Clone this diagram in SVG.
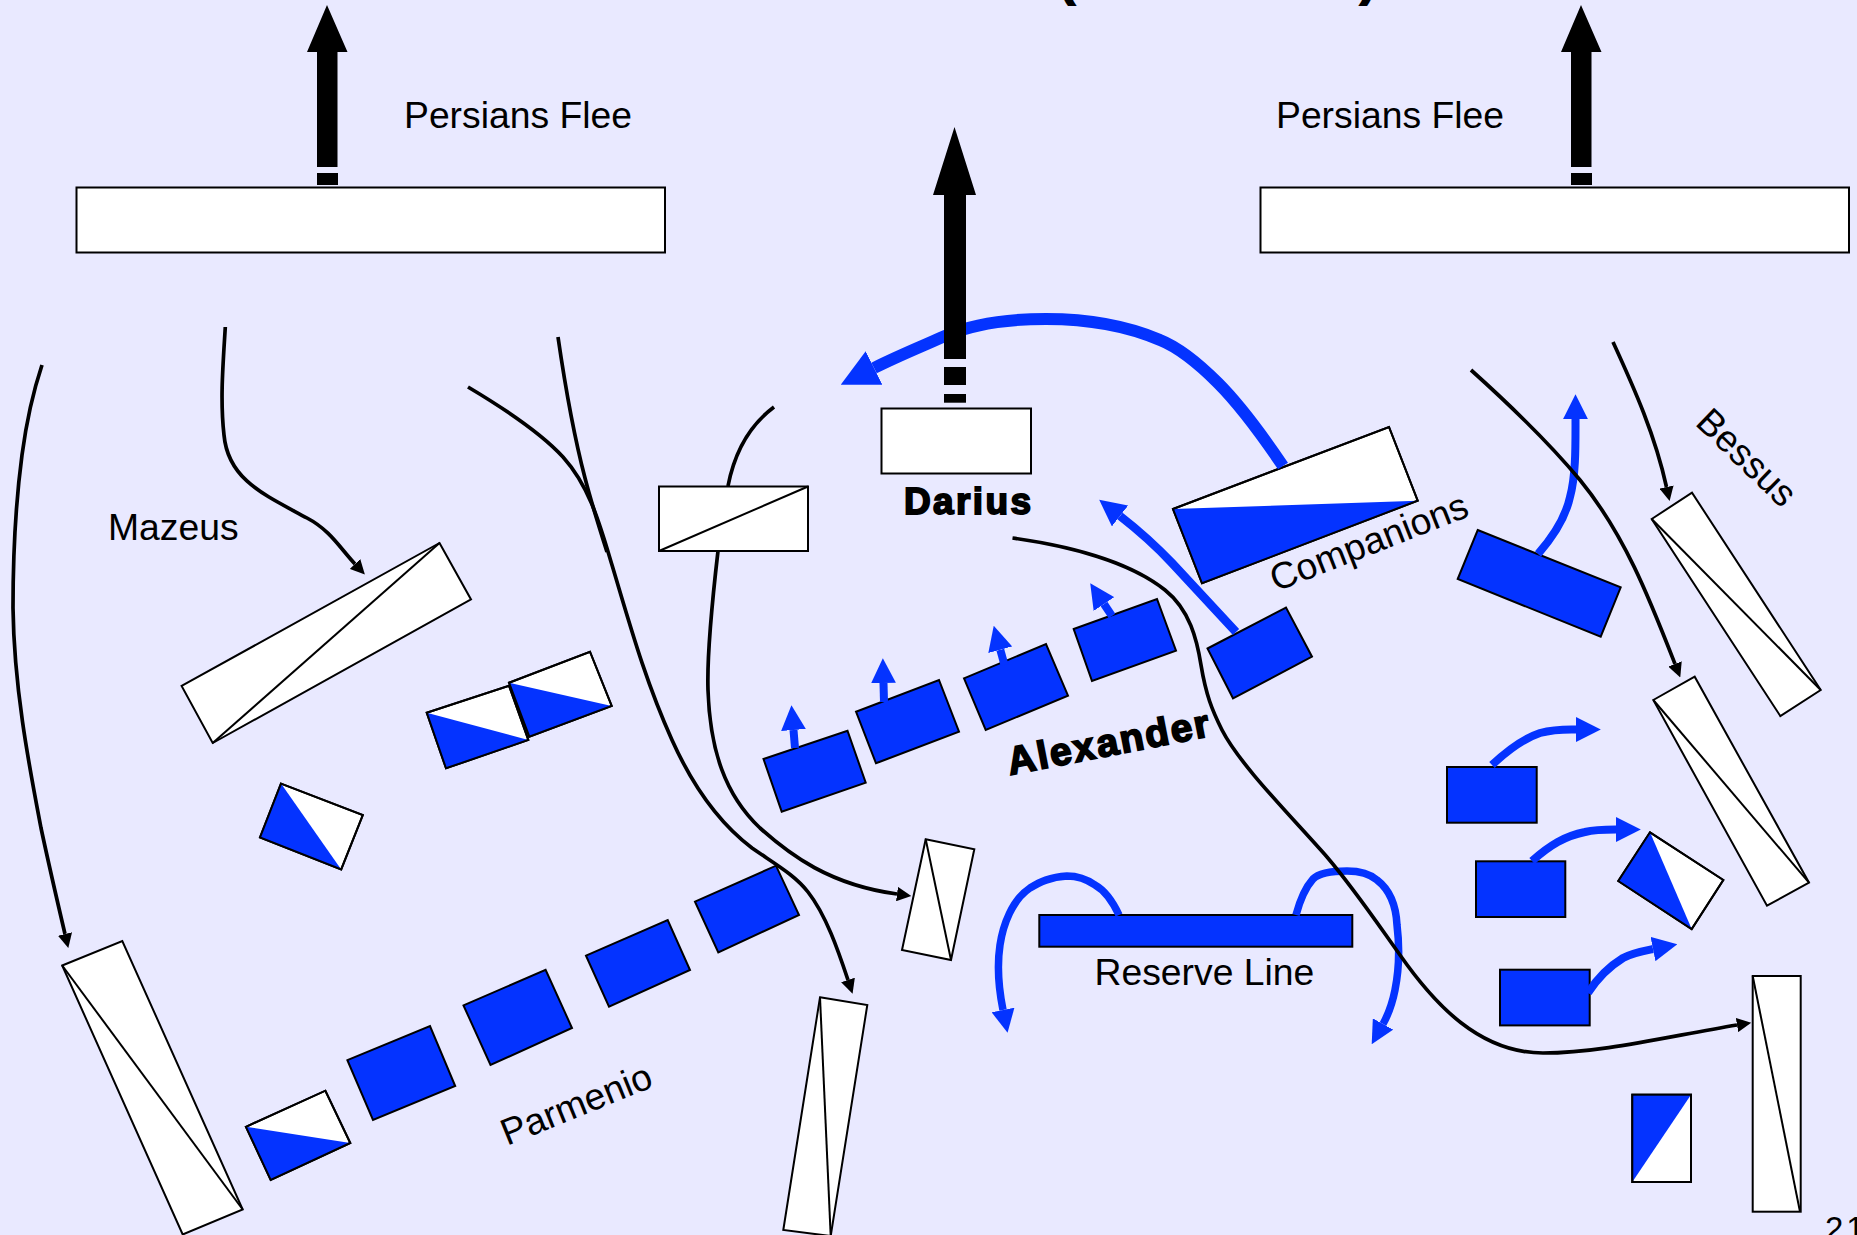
<svg xmlns="http://www.w3.org/2000/svg" width="1857" height="1235" viewBox="0 0 1857 1235">
<style>
.n{fill:#fff;stroke:#000;stroke-width:2;stroke-linejoin:miter}
.o{fill:none;stroke:#000;stroke-width:2}
.b{fill:#0433ff;stroke:none}
.s{fill:#0433ff;stroke:#000;stroke-width:2}
.d{stroke:#000;stroke-width:2;fill:none}
.t{font-family:"Liberation Sans",Arial,sans-serif;font-size:37.3px;fill:#000}
.h{font-family:"Liberation Sans",Arial,sans-serif;font-weight:bold;fill:#000;stroke:#000;stroke-width:1.8}
.k{fill:none;stroke:#000;stroke-width:3.7;marker-end:url(#mk)}
.u{fill:none;stroke:#0433ff;stroke-width:8;marker-end:url(#mb)}
.f{fill:#000}
</style>
<defs>
<marker id="mk" viewBox="0 0 10 10" refX="0" refY="5" markerWidth="3.9" markerHeight="3.9" orient="auto"><polygon points="0,0 10,5 0,10" fill="#000"/></marker>
<marker id="mb" viewBox="0 0 10 10" refX="0" refY="5" markerWidth="3.1" markerHeight="3.1" orient="auto"><polygon points="0,0 10,5 0,10" fill="#0433ff"/></marker>
</defs>
<rect width="1857" height="1235" fill="#e9e9ff"/>
<text class="h" x="1059" y="-5" font-size="48">(</text>
<text class="h" x="1360" y="-5" font-size="48">)</text>

<g id="persians-left"><rect class="n" x="76.5" y="187.5" width="588.5" height="65"/></g>
<g id="persians-right"><rect class="n" x="1260.5" y="187.5" width="588.5" height="65"/></g>
<g id="darius"><rect class="n" x="881.5" y="408.5" width="149.5" height="65"/></g>
<g id="mid-rect"><rect class="n" x="659" y="486.5" width="149" height="64.5"/><line class="d" x1="659" y1="551" x2="808" y2="486.5"/></g>
<g id="companions"><polygon class="n" points="1173,509 1389,427 1417.7,500.7 1202,583.3"/><polygon class="b" points="1173,509 1417.7,500.7 1202,583.3"/><polygon class="o" points="1173,509 1389,427 1417.7,500.7 1202,583.3"/></g>

<g id="alex-1"><polygon class="s" points="763.5,759 847.5,730.7 865.7,782.7 781.7,811.7"/></g>
<g id="alex-2"><polygon class="s" points="856,711.7 939,680 959,731.7 876,763.3"/></g>
<g id="alex-3"><polygon class="s" points="964,678.3 1046,644 1068,695.7 985.7,730"/></g>
<g id="alex-4"><polygon class="s" points="1073.7,629 1157,599 1176,650.7 1092,681"/></g>
<g id="alex-5"><polygon class="s" points="1207.5,648.5 1286,607.5 1312,656.7 1233,698.3"/></g>

<g id="right-block"><polygon class="s" points="1477.7,530 1620.7,587.3 1600.7,636.7 1457.7,579"/></g>
<g id="bessus-1"><polygon class="n" points="1651.7,519 1692,492.7 1820.7,690 1780.3,716"/><line class="d" x1="1651.7" y1="519" x2="1820.7" y2="690"/></g>
<g id="bessus-2"><polygon class="n" points="1653.3,700 1694.7,676.7 1809,882.7 1767,905.7"/><line class="d" x1="1653.3" y1="700" x2="1809" y2="882.7"/></g>
<g id="blue-1"><rect class="s" x="1447" y="767" width="89.7" height="55.7"/></g>
<g id="blue-2"><rect class="s" x="1476" y="861.3" width="89.3" height="55.7"/></g>
<g id="blue-3"><rect class="s" x="1500" y="969.7" width="89.7" height="55.7"/></g>
<g id="diamond-right"><polygon class="n" points="1650,832.3 1723.3,880 1691.7,929 1618.3,881"/><polygon class="b" points="1650,832.3 1691.7,929 1618.3,881"/><polygon class="o" points="1650,832.3 1723.3,880 1691.7,929 1618.3,881"/></g>
<g id="tall-right"><rect class="n" x="1752.7" y="976" width="48" height="235.7"/><line class="d" x1="1752.7" y1="976" x2="1800" y2="1211.7"/></g>
<g id="small-right"><rect class="n" x="1632.3" y="1094.7" width="58.7" height="87.3"/><polygon class="b" points="1632.3,1094.7 1691,1094.7 1632.3,1182"/><rect class="o" x="1632.3" y="1094.7" width="58.7" height="87.3"/></g>

<g id="reserve"><rect class="s" x="1039.3" y="915" width="313" height="31.7"/></g>

<g id="mazeus"><polygon class="n" points="439.5,543 471,599.4 212.7,743 181.6,686"/><line class="d" x1="439.5" y1="543" x2="212.7" y2="743"/></g>
<g id="pair-left"><polygon class="n" points="426.7,712.7 509,685.7 528.3,740 446,768.3"/><polygon class="b" points="426.7,712.7 528.3,740 446,768.3"/><polygon class="o" points="426.7,712.7 509,685.7 528.3,740 446,768.3"/></g>
<g id="pair-right"><polygon class="n" points="509,682.7 590,651.7 611.7,706 529.3,736.7"/><polygon class="b" points="509,682.7 611.7,706 529.3,736.7"/><polygon class="o" points="509,682.7 590,651.7 611.7,706 529.3,736.7"/></g>
<g id="diamond-left"><polygon class="n" points="281,783.6 362.8,815 341.2,869.4 260,837.5"/><polygon class="b" points="281,783.6 341.2,869.4 260,837.5"/><polygon class="o" points="281,783.6 362.8,815 341.2,869.4 260,837.5"/></g>
<g id="tall-left"><polygon class="n" points="62.2,965.5 122.3,941 242.7,1209.5 182.7,1234.5"/><line class="d" x1="62.2" y1="965.5" x2="242.7" y2="1209.5"/></g>
<g id="parm-1"><polygon class="n" points="245.9,1126.8 325.4,1090.7 350.3,1143 270.7,1179.8"/><polygon class="b" points="245.9,1126.8 350.3,1143 270.7,1179.8"/><polygon class="o" points="245.9,1126.8 325.4,1090.7 350.3,1143 270.7,1179.8"/></g>
<g id="parm-2"><polygon class="s" points="347.4,1060.2 430,1026 455.2,1086 373,1120"/></g>
<g id="parm-3"><polygon class="s" points="463.5,1005.4 545.6,969.8 572,1028 490.5,1065"/></g>
<g id="parm-4"><polygon class="s" points="586,955.7 667.7,920 690,970 609,1006.7"/></g>
<g id="parm-5"><polygon class="s" points="695,901.7 776,865.7 799,915 718.3,952.3"/></g>
<g id="small-mid"><polygon class="n" points="925.7,839.3 974.3,849.3 951,960 902,950"/><line class="d" x1="925.7" y1="839.3" x2="951" y2="960"/></g>
<g id="tall-mid"><polygon class="n" points="820,997.3 867.3,1005 830.7,1236 783.3,1230"/><line class="d" x1="820" y1="997.3" x2="830.7" y2="1236"/></g>

<g id="connectors">
<path class="u" style="stroke-width:12" d="M1283 466C1262 435 1240 405 1218 383C1200 365 1180 348 1160 340C1125 325 1085 319 1046 319C1010 319 975 323 945 336C925 345 900 355 874 368"/>
<path class="u" style="stroke-width:8.5" d="M1236 632L1172 563C1155 545 1138 530 1120 516"/>
<path class="u" d="M795 748L793.5 730"/>
<path class="u" d="M884 702L883.5 683"/>
<path class="u" d="M1004.5 665L1000.3 649.7"/>
<path class="u" d="M1112 616L1104 604"/>
<path class="u" style="stroke-width:7.5" d="M1119 915C1112 900 1104 890 1095 885C1085 878 1075 876 1067 876C1050 877 1040 882 1030 888C1012 900 1003 925 1000 945C997 965 999 990 1003 1010"/>
<path class="u" style="stroke-width:7.5" d="M1296 915C1300 900 1305 888 1313 879C1320 872 1335 871 1347 871C1360 871 1370 874 1377 880C1390 890 1396 905 1397 925C1400 950 1398 975 1395 990C1392 1005 1388 1015 1383 1024"/>
<path class="u" d="M1538 554C1552 538 1565 520 1570 497C1576 475 1575.5 445 1575.5 419"/>
<path class="u" d="M1492 765C1510 748 1525 738 1540 733C1555 729 1565 729.5 1576 729.5"/>
<path class="u" d="M1532 861C1550 845 1565 836 1585 832C1595 829.5 1605 829.5 1616 829.5"/>
<path class="u" d="M1588 993C1598 977 1610 966 1623 958C1632 953 1643 951 1653 949"/>

<path class="k" d="M42 365C32 395 26 425 22 455C16 500 13 560 13 608C14 690 30 770 41 828C50 870 57 900 65 934"/>
<path class="k" d="M225.3 327C223 365 220 400 224 435C228 480 265 495 307 518C330 530 340 548 355 564"/>
<path class="k" d="M468 387C505 409 540 432 563 457C590 487 600 525 612 565C630 625 645 680 672 740C690 780 715 820 752 848C775 864 795 875 808 892C826 915 838 950 848 980"/>
<path class="k" style="marker-end:none" d="M558 337C565 385 575 440 585 478C592 505 600 530 607 552"/>
<path class="k" d="M774 407C750 425 735 450 728 486M718 551C710 620 707 660 708 690C710 750 725 795 760 828C790 855 830 885 897 894"/>
<path class="k" d="M1012.5 538C1070 546 1130 562 1165 590C1190 610 1197 640 1201 665C1206 695 1212 710 1222 730C1240 765 1290 815 1327 857C1355 890 1375 920 1400 955C1435 1005 1480 1053 1543 1053C1600 1053 1665 1037 1737 1025"/>
<path class="k" d="M1471 370C1520 414 1555 450 1580 480C1625 535 1650 600 1675 664"/>
<path class="k" d="M1613 342C1635 390 1655 435 1666.5 487"/>

<g id="flee-left"><polygon class="f" points="327,5 347.5,52 337.5,52 337.5,167 317,167 317,52 307,52"/><rect class="f" x="317" y="173" width="21" height="12"/></g>
<g id="flee-right"><polygon class="f" points="1581,5 1601.5,52 1591.5,52 1591.5,167 1571,167 1571,52 1561,52"/><rect class="f" x="1571" y="173" width="21" height="12"/></g>
<g id="flee-darius"><polygon class="f" points="954.5,127 976,195 966,195 966,359 944,359 944,195 933,195"/><rect class="f" x="944" y="367" width="22" height="18"/><rect class="f" x="944" y="394" width="22" height="8.7"/></g>
</g>

<text class="t" x="404" y="128">Persians Flee</text>
<text class="t" x="1276" y="128">Persians Flee</text>
<text class="h" x="904" y="514" font-size="37" textLength="127">Darius</text>
<text class="t" x="108" y="540">Mazeus</text>
<text class="t" x="1094.5" y="985">Reserve Line</text>
<text class="t" transform="translate(1276 592) rotate(-21.4)">Companions</text>
<text class="t" transform="translate(507 1146) rotate(-22)">Parmenio</text>
<text class="t" transform="translate(1694 424) rotate(44)">Bessus</text>
<text class="h" transform="translate(1010 775) rotate(-11)" font-size="39" textLength="205">Alexander</text>
<text x="1825" y="1240" font-family="Liberation Sans, Arial, sans-serif" font-size="33" letter-spacing="3">21</text>
</svg>
